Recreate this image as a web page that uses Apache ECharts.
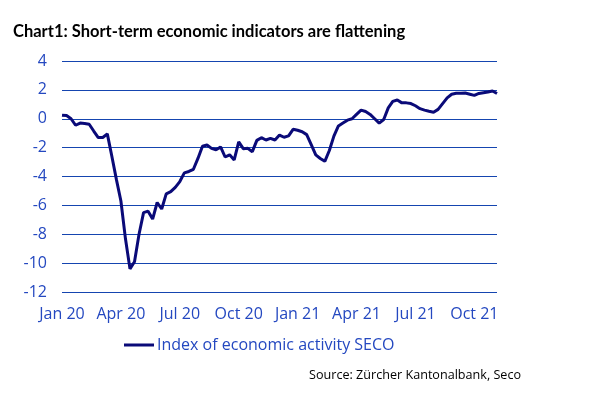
<!DOCTYPE html>
<html>
<head>
<meta charset="utf-8">
<script src="https://cdn.jsdelivr.net/npm/echarts@6/dist/echarts.min.js"></script>
<style>
  html, body { margin: 0; padding: 0; background: #fff; }
  #chart { width: 610px; height: 399px; }
</style>
</head>
<body>
<div id="chart"></div>
<script>
// weekly index of economic activity (SECO), first week of Jan 2020 onward
const startDate = '2020-01-05';
const monthNames = ['Jan', 'Feb', 'Mar', 'Apr', 'May', 'Jun', 'Jul', 'Aug', 'Sep', 'Oct', 'Nov', 'Dec'];
const quarterMonths = [0, 3, 6, 9];
const seriesName = 'Index of economic activity SECO';
const wea = [
  0.25, 0.22, 0.0, -0.45, -0.3, -0.33, -0.38, -0.85, -1.3, -1.3,
  -1.05, -2.6, -4.2, -5.7, -8.3, -10.4, -9.9, -8.0, -6.5, -6.4,
  -6.95, -5.8, -6.25, -5.2, -5.05, -4.75, -4.35, -3.75, -3.65, -3.5,
  -2.75, -1.9, -1.82, -2.05, -2.15, -1.95, -2.65, -2.5, -2.85, -1.6,
  -2.07, -2.05, -2.28, -1.5, -1.31, -1.47, -1.36, -1.47, -1.13, -1.28,
  -1.19, -0.73, -0.8, -0.9, -1.1, -1.8, -2.5, -2.75, -2.95, -2.2,
  -1.2, -0.5, -0.3, -0.1, 0.0, 0.3, 0.6, 0.5, 0.3, 0.0,
  -0.3, -0.05, 0.75, 1.2, 1.3, 1.1, 1.1, 1.05, 0.9, 0.7,
  0.6, 0.52, 0.45, 0.65, 1.05, 1.45, 1.7, 1.76, 1.76, 1.78,
  1.7, 1.62, 1.75, 1.8, 1.85, 1.92, 1.75
];

const weeks = wea.map((_, i) => {
  const d = new Date(startDate + 'T00:00:00Z');
  d.setUTCDate(d.getUTCDate() + i * 7);
  return d.toISOString().slice(0, 10);
});

// label the first week of each quarter
const isQuarterStart = (i) => {
  const d = new Date(weeks[i] + 'T00:00:00Z');
  if (!quarterMonths.includes(d.getUTCMonth())) return false;
  if (i === 0) return true;
  const p = new Date(weeks[i - 1] + 'T00:00:00Z');
  return p.getUTCMonth() !== d.getUTCMonth();
};

const blue = '#2448c0';
const font = 'Open Sans';

const chart = echarts.init(document.getElementById('chart'));
chart.setOption({
  animation: false,
  title: {
    text: 'Chart1: Short-term economic indicators are flattening',
    left: 8, top: 18,
    textStyle: { fontFamily: 'Lato', fontSize: 16.5, fontWeight: 'bold', color: '#000' }
  },
  grid: { left: 62, right: 113, top: 61, bottom: 107 },
  legend: {
    data: [seriesName],
    left: 119, top: 332,
    icon: 'rect', itemWidth: 30, itemHeight: 3, itemGap: 0,
    textStyle: { fontFamily: font, fontSize: 16, color: blue, padding: [0, 0, 0, -2] }
  },
  graphic: [{
    type: 'text', right: 89, top: 369,
    style: { text: 'Source: Zürcher Kantonalbank, Seco', fontFamily: font, fontSize: 12.6, fill: '#000' }
  }],
  xAxis: {
    type: 'category',
    data: weeks,
    boundaryGap: false,
    axisLine: { show: false },
    axisTick: { show: false },
    splitLine: { show: false },
    axisLabel: {
      interval: (i) => isQuarterStart(i),
      formatter: (v) => {
        const d = new Date(v + 'T00:00:00Z');
        return monthNames[d.getUTCMonth()] + ' ' + String(d.getUTCFullYear()).slice(2);
      },
      color: blue, fontFamily: font, fontSize: 16, margin: 14
    }
  },
  yAxis: {
    type: 'value',
    min: -12, max: 4, interval: 2,
    axisLine: { show: false },
    axisTick: { show: false },
    splitLine: { lineStyle: { color: '#1545b0', width: 1 } },
    axisLabel: { color: blue, fontFamily: font, fontSize: 16, margin: 15 }
  },
  series: [{
    name: seriesName,
    type: 'line',
    data: wea,
    showSymbol: false,
    smooth: false,
    lineStyle: { color: '#0a0a78', width: 3 },
    itemStyle: { color: '#0a0a78' }
  }]
});
</script>
</body>
</html>
